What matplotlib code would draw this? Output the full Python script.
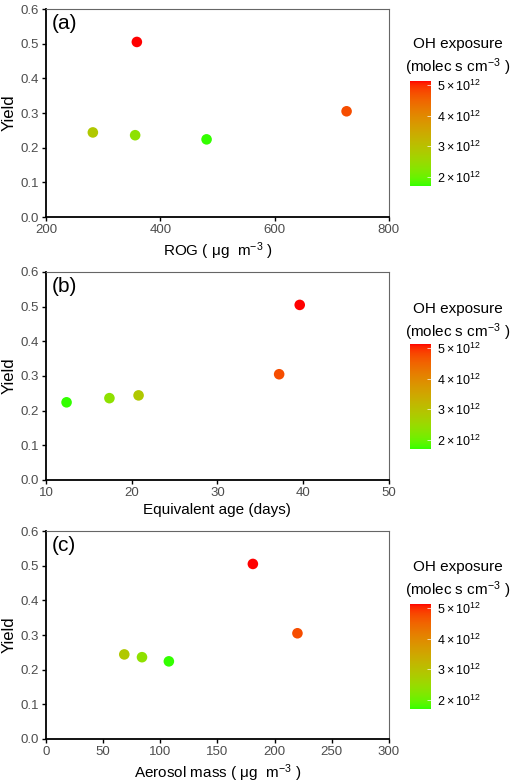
import numpy as np
import matplotlib
matplotlib.use("Agg")
import matplotlib.pyplot as plt
from matplotlib.colors import ListedColormap, Normalize

plt.rcParams["font.family"] = ["Liberation Sans", "DejaVu Sans"]
plt.rcParams["mathtext.fontset"] = "custom"
plt.rcParams["mathtext.rm"] = "Liberation Sans"
plt.rcParams["mathtext.it"] = "Liberation Sans:italic"

# data (one entry per experiment)
yield_vals = [0.505, 0.305, 0.244, 0.236, 0.224]
rog = [359, 726, 282, 356, 481]
eq_age = [39.6, 37.2, 20.8, 17.4, 12.4]
aerosol_mass = [181, 220, 68.5, 84, 107.5]
oh_exposure = [5.13e12, 4.75e12, 2.85e12, 2.35e12, 1.70e12]

cbar_ticks = [2e12, 3e12, 4e12, 5e12]
cbar_labels = [r"$2\times10^{12}$", r"$3\times10^{12}$", r"$4\times10^{12}$", r"$5\times10^{12}$"]


# green -> red gradient interpolated in Lab space (like ggplot)
def to_lab(rgb):
    c = np.asarray(rgb, float)
    c = np.where(c > 0.04045, ((c + 0.055) / 1.055) ** 2.4, c / 12.92)
    m = np.array([[0.4124, 0.3576, 0.1805],
                  [0.2126, 0.7152, 0.0722],
                  [0.0193, 0.1192, 0.9505]])
    xyz = m @ c / np.array([0.95047, 1.0, 1.08883])
    f = np.where(xyz > 0.008856, np.cbrt(xyz), 7.787 * xyz + 16 / 116)
    return np.array([116 * f[1] - 16, 500 * (f[0] - f[1]), 200 * (f[1] - f[2])])


def to_rgb(lab):
    fy = (lab[0] + 16) / 116
    fx = fy + lab[1] / 500
    fz = fy - lab[2] / 200
    f = np.array([fx, fy, fz])
    xyz = np.where(f ** 3 > 0.008856, f ** 3, (f - 16 / 116) / 7.787)
    xyz = xyz * np.array([0.95047, 1.0, 1.08883])
    minv = np.array([[3.2406, -1.5372, -0.4986],
                     [-0.9689, 1.8758, 0.0415],
                     [0.0557, -0.2040, 1.0570]])
    c = minv @ xyz
    c = np.clip(c, 0, 1)
    c = np.where(c > 0.0031308, 1.055 * c ** (1 / 2.4) - 0.055, 12.92 * c)
    return np.clip(c, 0, 1)


lo = to_lab([0.2, 1.0, 0.0])
hi = to_lab([1.0, 0.0, 0.0])
cols = [to_rgb(lo + (hi - lo) * t) for t in np.linspace(0, 1, 256)]
cmap = ListedColormap(cols)
norm = Normalize(vmin=min(oh_exposure), vmax=max(oh_exposure))

fig = plt.figure(figsize=(5.11, 7.84), dpi=100)

panels = [
    ("(a)", rog, (200, 800), [200, 400, 600, 800], r"ROG ( $\mathregular{\mu}$g  m$^{-3}$ )", 0.7232),
    ("(b)", eq_age, (10, 50), [10, 20, 30, 40, 50], "Equivalent age (days)", 0.3878),
    ("(c)", aerosol_mass, (0, 300), [0, 50, 100, 150, 200, 250, 300], r"Aerosol mass ( $\mathregular{\mu}$g  m$^{-3}$ )", 0.0574),
]
cbar_bottoms = [0.7628, 0.4273, 0.0957]
title_px = [(44, 67), (309, 332), (567, 590)]

grey = "#4d4d4d"
for (lab, xs, xlim, xt, xlabel, bottom), cb, tp in zip(panels, cbar_bottoms, title_px):
    ax = fig.add_axes([0.090, bottom, 0.671, 0.2653])
    sc = ax.scatter(xs, yield_vals, c=oh_exposure, cmap=cmap, norm=norm,
                    s=58, edgecolors="none", zorder=3)
    ax.set_xlim(*xlim)
    ax.set_ylim(0, 0.6)
    ax.set_xticks(xt)
    ax.set_yticks([0, 0.1, 0.2, 0.3, 0.4, 0.5, 0.6])
    ax.set_yticklabels(["0.0", "0.1", "0.2", "0.3", "0.4", "0.5", "0.6"])
    ax.tick_params(direction="out", length=3, width=1, labelsize=9.5,
                   labelcolor=grey, color="black", pad=2)
    for s in ["left", "bottom"]:
        ax.spines[s].set_linewidth(1.3)
        ax.spines[s].set_color("black")
    for s in ["top", "right"]:
        ax.spines[s].set_linewidth(0.8)
        ax.spines[s].set_color("#666666")
    ax.set_xlabel(xlabel, fontsize=11, labelpad=3)
    ax.set_ylabel("Yield", fontsize=12, labelpad=3)
    ax.text(0.016, 0.975, lab, transform=ax.transAxes, fontsize=15,
            va="top", ha="left")

    cax = fig.add_axes([0.8023, cb, 0.0411, 0.1339])
    cbar = fig.colorbar(sc, cax=cax)
    cbar.outline.set_visible(False)
    cbar.set_ticks(cbar_ticks)
    cbar.set_ticklabels(cbar_labels)
    cax.tick_params(direction="in", length=3, width=0.5, color="white",
                    labelsize=9, labelcolor="black", pad=4)

    fig.text(0.896, 1 - tp[0] / 784, "OH exposure", fontsize=11,
             ha="center", va="center")
    fig.text(0.896, 1 - tp[1] / 784, r"(molec s cm$^{-3}$ )", fontsize=11,
             ha="center", va="center")

fig.savefig("out.png", dpi=100)
